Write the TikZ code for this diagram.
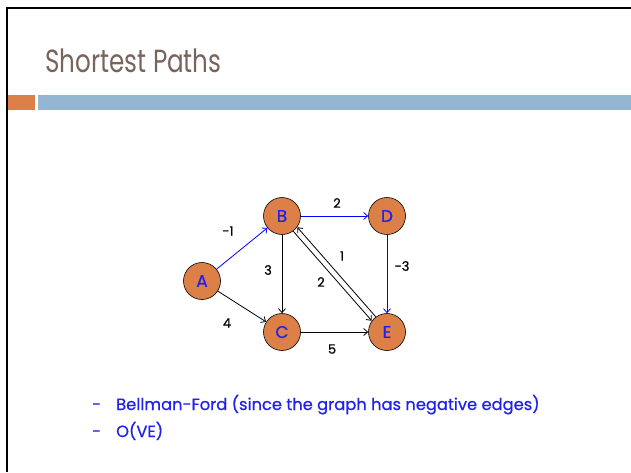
\documentclass[tikz,border=0pt]{standalone}
\usepackage{fontspec}
\usepackage{graphicx}
\setmainfont{Poppins}
\newfontfamily\heavyfont{Poppins}[FakeBold=0.6]
\usetikzlibrary{arrows.meta}
\definecolor{nodeorange}{HTML}{DD8047}
\definecolor{titlebrown}{HTML}{77645C}
\definecolor{barblue}{HTML}{94B6D2}
\definecolor{txtblue}{HTML}{2020F0}
\tikzset{
  vtx/.style={circle, draw=black, line width=0.6pt, fill=nodeorange, minimum size=37pt, inner sep=0pt, text=txtblue, font=\heavyfont\fontsize{17}{17}\selectfont},
  edg/.style={line width=0.8pt, -{Straight Barb[length=4pt,width=7pt]}},
  wlab/.style={font=\heavyfont\fontsize{13}{13}\selectfont, text=black, inner sep=0pt},
  bul/.style={anchor=base west, text=txtblue, font=\heavyfont\fontsize{16.3}{16.3}\selectfont, inner sep=0pt}
}
\begin{document}
\begin{tikzpicture}[x=1pt,y=-1pt]
\useasboundingbox (0,0) rectangle (631,472);
\fill[white] (0,0) rectangle (631,472);
% frame
\draw[line width=2pt, black] (6.5,472) -- (6.5,7.5) -- (631,7.5);
% bars
\fill[nodeorange] (7.5,95) rectangle (35,110);
\fill[barblue] (38,95) rectangle (631,110);
% title
\node[anchor=base west, inner sep=0pt, text=titlebrown, font=\fontsize{32}{32}\selectfont] (title) at (45,72) {\scalebox{0.77}[1]{Shortest Paths}};
% nodes
\node[vtx] (A) at (202,281) {A};
\node[vtx] (B) at (282,216) {B};
\node[vtx] (D) at (387,216) {D};
\node[vtx] (C) at (282,332) {C};
\node[vtx] (E) at (387,332) {E};
% edges
\draw[edg, blue] (A) -- (B);
\draw[edg, blue] (B) -- (D);
\draw[edg, blue] (D) -- (E);
\draw[edg] (A) -- (C);
\draw[edg] (B) -- (C);
\draw[edg] (C) -- (E);
\draw[edg] ([shift={(-2,2)}]B.-45) -- ([shift={(-2,2)}]E.135);
\draw[edg] ([shift={(2,-2)}]E.135) -- ([shift={(2,-2)}]B.-45);
% weights
\node[wlab] (w1) at (228,231) {-1};
\node[wlab] (w2) at (337,203) {2};
\node[wlab] (w3) at (342,256) {1};
\node[wlab] (w4) at (268,270) {3};
\node[wlab] (w5) at (321,282) {2};
\node[wlab] (w6) at (402,266) {-3};
\node[wlab] (w7) at (227,323) {4};
\node[wlab] (w8) at (332,349) {5};
% bullets
\node[bul] (d1) at (92,410) {-};
\node[bul] (t1) at (116,410) {Bellman-Ford (since the graph has negative edges)};
\node[bul] (d2) at (92,437) {-};
\node[bul] (t2) at (116,437) {O(VE)};
\end{tikzpicture}
\end{document}
